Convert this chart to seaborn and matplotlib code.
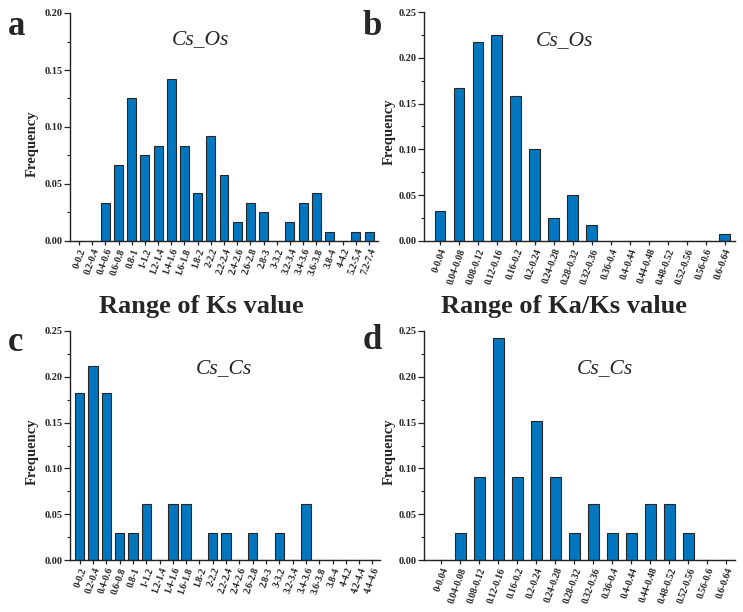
import matplotlib
matplotlib.use("Agg")
import matplotlib.pyplot as plt
from matplotlib.ticker import MultipleLocator, AutoMinorLocator
import seaborn as sns
import pandas as pd

# Ks ranges / frequency, Cs_Os (panel a)
ks_os_bins = ["0-0.2", "0.2-0.4", "0.4-0.6", "0.6-0.8", "0.8-1", "1-1.2", "1.2-1.4",
              "1.4-1.6", "1.6-1.8", "1.8-2", "2-2.2", "2.2-2.4", "2.4-2.6", "2.6-2.8",
              "2.8-3", "3-3.2", "3.2-3.4", "3.4-3.6", "3.6-3.8", "3.8-4", "4-4.2",
              "5.2-5.4", "7.2-7.4"]
ks_os_freq = [0, 0, 0.033, 0.067, 0.125, 0.075, 0.083, 0.142, 0.083, 0.042, 0.092, 0.058,
              0.017, 0.033, 0.025, 0, 0.017, 0.033, 0.042, 0.008, 0, 0.008, 0.008]

# Ka/Ks ranges (panels b and d)
kaks_bins = ["0-0.04", "0.04-0.08", "0.08-0.12", "0.12-0.16", "0.16-0.2", "0.2-0.24",
             "0.24-0.28", "0.28-0.32", "0.32-0.36", "0.36-0.4", "0.4-0.44", "0.44-0.48",
             "0.48-0.52", "0.52-0.56", "0.56-0.6", "0.6-0.64"]
kaks_os_freq = [0.033, 0.167, 0.217, 0.225, 0.158, 0.100, 0.025, 0.050, 0.017,
                0, 0, 0, 0, 0, 0, 0.008]

# Ks ranges / frequency, Cs_Cs (panel c)
ks_cs_bins = ["0-0.2", "0.2-0.4", "0.4-0.6", "0.6-0.8", "0.8-1", "1-1.2", "1.2-1.4",
              "1.4-1.6", "1.6-1.8", "1.8-2", "2-2.2", "2.2-2.4", "2.4-2.6", "2.6-2.8",
              "2.8-3", "3-3.2", "3.2-3.4", "3.4-3.6", "3.6-3.8", "3.8-4", "4-4.2",
              "4.2-4.4", "4.4-4.6"]
ks_cs_freq = [0.182, 0.212, 0.182, 0.030, 0.030, 0.061, 0, 0.061, 0.061, 0, 0.030, 0.030,
              0, 0.030, 0, 0.030, 0, 0.061, 0, 0, 0, 0, 0]

kaks_cs_freq = [0, 0.030, 0.091, 0.242, 0.091, 0.152, 0.091, 0.030, 0.061, 0.030, 0.030,
                0.061, 0.061, 0.030, 0, 0]

sns.set_style("ticks")
plt.rcParams['font.family'] = ['Liberation Serif', 'DejaVu Serif']

W, H = 743, 612
fig = plt.figure(figsize=(W / 100, H / 100), dpi=100)

bar_color = "#0076BE"


def px_axes(x0, x1, y0, y1):
    return fig.add_axes([x0 / W, 1 - y1 / H, (x1 - x0) / W, (y1 - y0) / H])


def panel(ax, bins, freq, ymax, xlim, width):
    df = pd.DataFrame({"bin": bins, "freq": freq})
    sns.barplot(data=df, x="bin", y="freq", order=bins, color=bar_color, width=width,
                edgecolor="#262626", linewidth=0.8, saturation=1, ax=ax)
    ax.set_xlim(*xlim)
    ax.set_ylim(0, ymax)
    ax.yaxis.set_major_locator(MultipleLocator(0.05))
    ax.yaxis.set_minor_locator(AutoMinorLocator(2))
    ax.set_yticks(ax.get_yticks())
    ax.set_yticklabels([f"{v:.2f}" for v in ax.get_yticks()], fontsize=7.5, fontweight="bold")
    ax.set_xticks(range(len(bins)))
    ax.set_xticklabels(bins, rotation=70, ha="right", rotation_mode="anchor",
                       fontsize=7, fontweight="bold")
    ax.set_ylim(0, ymax)
    ax.set_xlabel("")
    ax.set_ylabel("")
    for s in ["top", "right"]:
        ax.spines[s].set_visible(False)
    for s in ["left", "bottom"]:
        ax.spines[s].set_linewidth(1.0)
        ax.spines[s].set_color("#222222")
    ax.tick_params(axis="both", which="major", direction="out", length=4, width=0.9,
                   color="#222222", pad=1.5)
    ax.tick_params(axis="y", which="minor", direction="out", length=2.5, width=0.8,
                   color="#222222")
    ax.tick_params(axis="x", which="major", length=3)


ax_a = px_axes(70, 378, 13, 241)
panel(ax_a, ks_os_bins, ks_os_freq, 0.20, (-0.68, 22.68), 0.68)
ax_b = px_axes(424, 735, 12, 241)
panel(ax_b, kaks_bins, kaks_os_freq, 0.25, (-0.83, 15.55), 0.55)
ax_c = px_axes(70, 380, 331, 560)
panel(ax_c, ks_cs_bins, ks_cs_freq, 0.25, (-0.73, 22.57), 0.7)
ax_d = px_axes(424, 735, 331, 560)
panel(ax_d, kaks_bins, kaks_cs_freq, 0.25, (-0.91, 15.46), 0.58)


def ftext(x, y, s, **kw):
    fig.text(x / W, 1 - y / H, s, **kw)


# panel letters
for x, y, s in [(17, 35, "a"), (372, 35, "b"), (16, 351, "c"), (372, 349, "d")]:
    ftext(x, y, s, fontsize=25, fontweight="bold", ha="center", va="baseline")

# species pair titles
for x, y, s in [(200, 40, "Cs_Os"), (564, 41, "Cs_Os"), (224, 369, "Cs_Cs"), (605, 369, "Cs_Cs")]:
    ftext(x, y, s, fontsize=15.5, fontstyle="italic", ha="center", va="center")

# y labels
for x, y in [(32, 144), (389, 132), (32, 452), (389, 452)]:
    ftext(x, y, "Frequency", fontsize=10.5, fontweight="bold", rotation=90,
          ha="center", va="center")

# x labels (top row only)
ftext(201, 313, "Range of Ks value", fontsize=19, fontweight="bold", ha="center", va="baseline")
ftext(564, 313, "Range of Ka/Ks value", fontsize=19, fontweight="bold", ha="center", va="baseline")

fig.savefig("out.png", dpi=100)
